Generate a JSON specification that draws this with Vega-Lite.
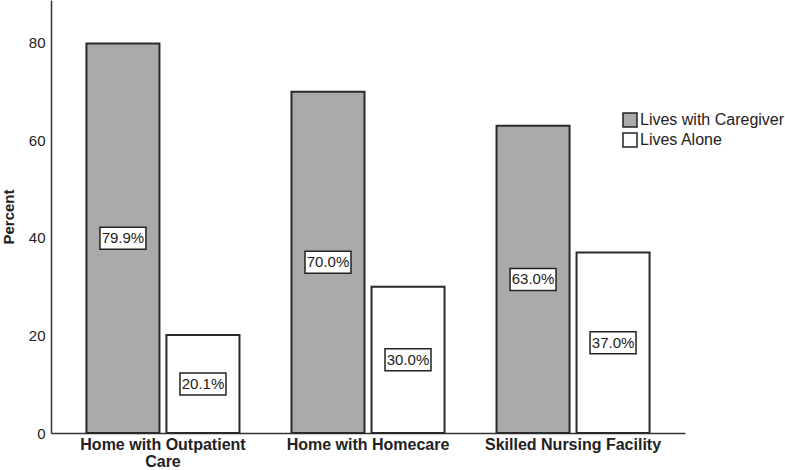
{
  "$schema": "https://vega.github.io/schema/vega-lite/v6.json",
  "autosize": "none",
  "width": 634,
  "height": 433,
  "padding": {"left": 51, "top": 0, "right": 100, "bottom": 37},
  "background": "white",
  "config": {"view": {"stroke": null}},
  "data": {
    "values": [
      {"place": "Home with Outpatient Care", "group": "Lives with Caregiver", "value": 79.9},
      {"place": "Home with Outpatient Care", "group": "Lives Alone", "value": 20.1},
      {"place": "Home with Homecare", "group": "Lives with Caregiver", "value": 70.0},
      {"place": "Home with Homecare", "group": "Lives Alone", "value": 30.0},
      {"place": "Skilled Nursing Facility", "group": "Lives with Caregiver", "value": 63.0},
      {"place": "Skilled Nursing Facility", "group": "Lives Alone", "value": 37.0}
    ]
  },
  "transform": [
    {"calculate": "datum.value / 2", "as": "mid"},
    {"calculate": "format(datum.value, '.1f') + '%'", "as": "label"}
  ],
  "encoding": {
    "x": {
      "field": "place",
      "type": "nominal",
      "sort": ["Home with Outpatient Care", "Home with Homecare", "Skilled Nursing Facility"],
      "scale": {"paddingInner": 0, "paddingOuter": 0.046},
      "axis": {
        "title": null,
        "labelAngle": 0,
        "ticks": false,
        "domainColor": "#333333",
        "domainWidth": 1.5,
        "labelFont": "Liberation Sans",
        "labelFontSize": 16,
        "labelFontWeight": "bold",
        "labelColor": "#222222",
        "labelPadding": 3,
        "labelLimit": 300,
        "labelLineHeight": 17,
        "labelExpr": "datum.value == 'Home with Outpatient Care' ? ['Home with Outpatient', 'Care'] : datum.value"
      }
    },
    "xOffset": {
      "field": "group",
      "type": "nominal",
      "sort": ["Lives with Caregiver", "Lives Alone"],
      "scale": {"paddingInner": 0.0875, "paddingOuter": 0.325}
    }
  },
  "layer": [
    {
      "mark": {"type": "bar", "stroke": "#2a2a2a", "strokeWidth": 2},
      "encoding": {
        "y": {
          "field": "value",
          "type": "quantitative",
          "scale": {"domain": [0, 88.8], "nice": false},
          "axis": {
            "title": "Percent",
            "values": [0, 20, 40, 60, 80],
            "grid": false,
            "ticks": false,
            "domainColor": "#333333",
            "domainWidth": 1.5,
            "labelFont": "Liberation Sans",
            "labelFontSize": 15,
            "labelColor": "#222222",
            "labelPadding": 6,
            "titleFont": "Liberation Sans",
            "titleFontSize": 15,
            "titleFontWeight": "bold",
            "titleColor": "#222222",
            "titlePadding": 12
          }
        },
        "fill": {
          "field": "group",
          "type": "nominal",
          "scale": {"domain": ["Lives with Caregiver", "Lives Alone"], "range": ["#aaaaaa", "#ffffff"]},
          "legend": {
            "title": null,
            "orient": "none",
            "legendX": 571,
            "legendY": 112,
            "symbolType": "square",
            "symbolSize": 196,
            "symbolStrokeColor": "#222222",
            "symbolStrokeWidth": 1.5,
            "labelFont": "Liberation Sans",
            "labelFontSize": 16,
            "labelColor": "#222222",
            "labelOffset": 2,
            "rowPadding": 0
          }
        }
      }
    },
    {
      "mark": {
        "type": "point",
        "shape": "M-1,-0.478L1,-0.478L1,0.478L-1,0.478Z",
        "size": 2116,
        "filled": true,
        "fill": "white",
        "stroke": "#222222",
        "strokeWidth": 1.5,
        "opacity": 1
      },
      "encoding": {
        "y": {"field": "mid", "type": "quantitative"}
      }
    },
    {
      "mark": {
        "type": "text",
        "font": "Liberation Sans",
        "fontSize": 15,
        "color": "#222222",
        "baseline": "middle",
        "align": "center"
      },
      "encoding": {
        "y": {"field": "mid", "type": "quantitative"},
        "text": {"field": "label"}
      }
    }
  ]
}
